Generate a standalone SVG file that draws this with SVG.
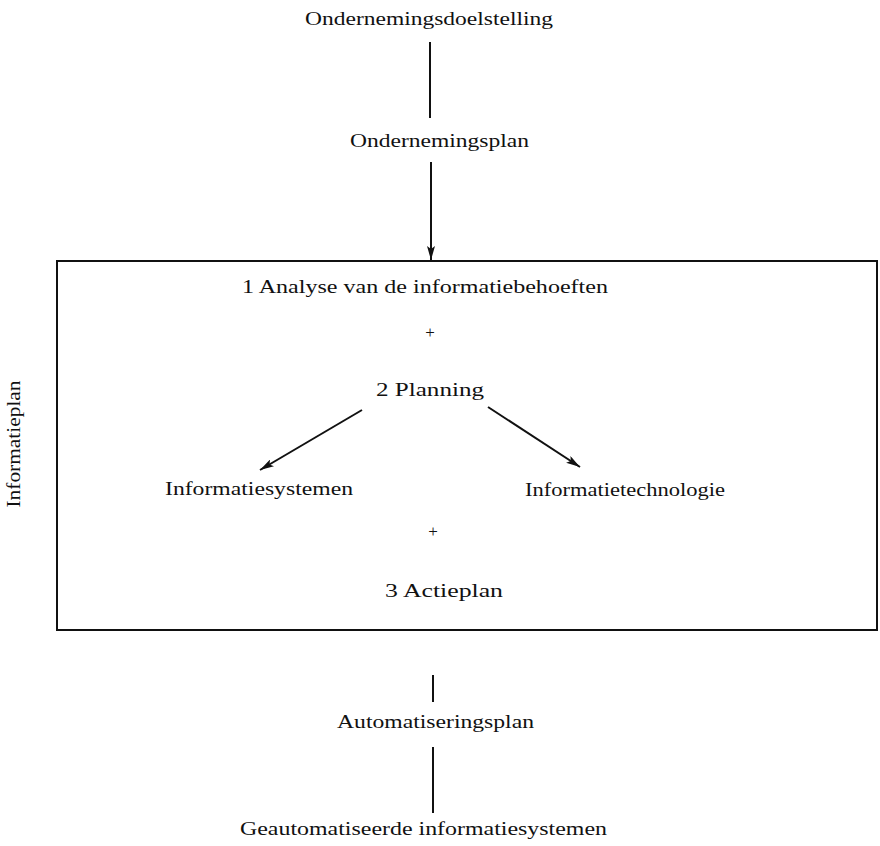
<svg xmlns="http://www.w3.org/2000/svg" width="880" height="846" viewBox="0 0 880 846">
<style>
text{font-family:"Liberation Serif","DejaVu Serif",serif;font-size:19px;fill:#111}
.ln{stroke:#111;stroke-width:2;fill:none}
.plus{font-size:17px}
</style>
<defs>
<marker id="ah" viewBox="0 0 14 8" refX="14" refY="4" markerWidth="14" markerHeight="8" orient="auto" markerUnits="userSpaceOnUse">
<path d="M0,0 L14,4 L0,8 L3,4 z" fill="#111"/>
</marker>
</defs>
<rect width="880" height="846" fill="#fff"/>
<g id="connectors">
<line class="ln" x1="430" y1="42" x2="430" y2="118"/>
<line class="ln" x1="431" y1="162" x2="431" y2="260" marker-end="url(#ah)"/>
<line class="ln" x1="362" y1="410" x2="260" y2="470" marker-end="url(#ah)"/>
<line class="ln" x1="488" y1="407" x2="580" y2="467" marker-end="url(#ah)"/>
<line class="ln" x1="433" y1="675" x2="433" y2="702" stroke-width="2.5"/>
<line class="ln" x1="433" y1="747" x2="433" y2="813"/>
</g>
<g id="informatieplan">
<rect x="57" y="261" width="820" height="369" class="ln"/>
<text transform="translate(20,444) rotate(-90)" text-anchor="middle" textLength="127" lengthAdjust="spacingAndGlyphs">Informatieplan</text>
</g>
<g id="n-doelstelling"><text x="305" y="25" textLength="248" lengthAdjust="spacingAndGlyphs">Ondernemingsdoelstelling</text></g>
<g id="n-ondernemingsplan"><text x="350" y="147" textLength="179" lengthAdjust="spacingAndGlyphs">Ondernemingsplan</text></g>
<g id="n-analyse"><text x="242" y="293" textLength="366" lengthAdjust="spacingAndGlyphs">1  Analyse van de informatiebehoeften</text></g>
<g id="plus1"><text class="plus" x="430" y="338" text-anchor="middle">+</text></g>
<g id="n-planning"><text x="376" y="396" textLength="108" lengthAdjust="spacingAndGlyphs">2  Planning</text></g>
<g id="n-systemen"><text x="165" y="495" textLength="188" lengthAdjust="spacingAndGlyphs">Informatiesystemen</text></g>
<g id="n-technologie"><text x="525" y="496" textLength="200" lengthAdjust="spacingAndGlyphs">Informatietechnologie</text></g>
<g id="plus2"><text class="plus" x="433" y="537" text-anchor="middle">+</text></g>
<g id="n-actieplan"><text x="385" y="597" textLength="118" lengthAdjust="spacingAndGlyphs">3  Actieplan</text></g>
<g id="n-automatiseringsplan"><text x="337" y="728" textLength="197" lengthAdjust="spacingAndGlyphs">Automatiseringsplan</text></g>
<g id="n-geautomatiseerd"><text x="240" y="835" textLength="367" lengthAdjust="spacingAndGlyphs">Geautomatiseerde informatiesystemen</text></g>
</svg>
